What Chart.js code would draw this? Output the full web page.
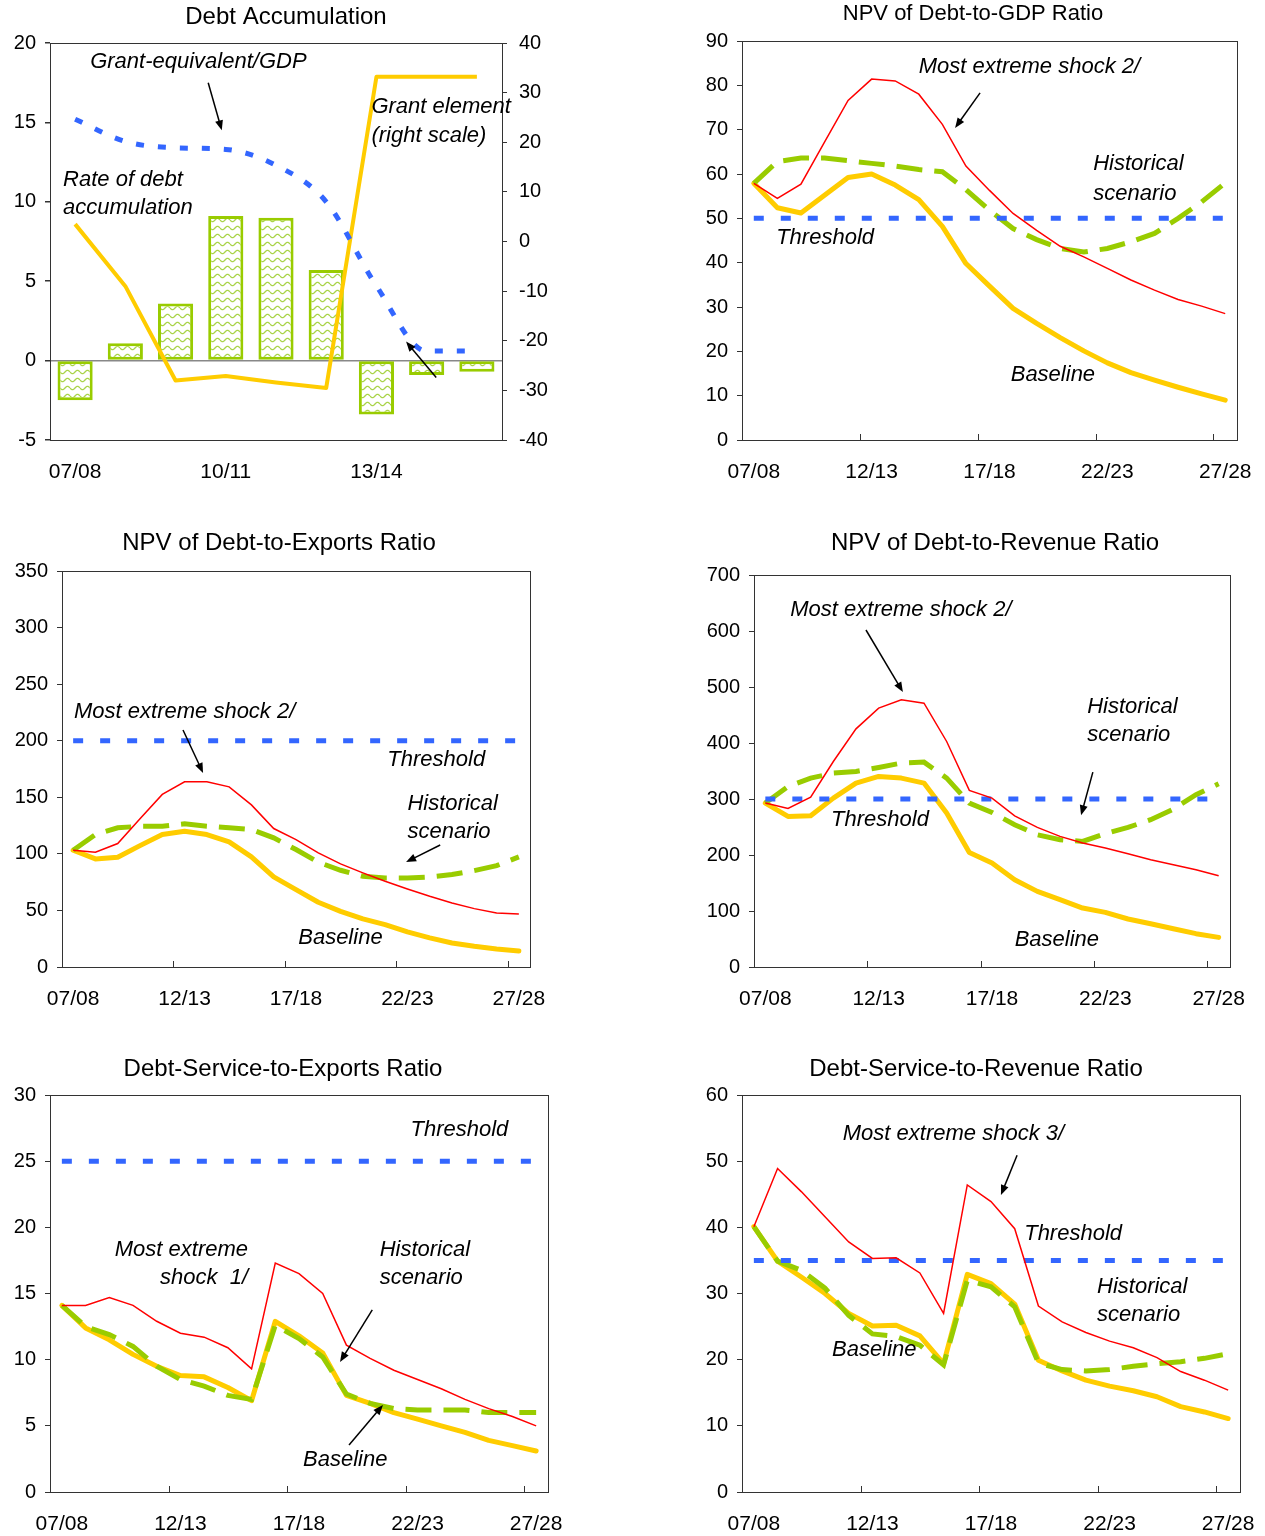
<!DOCTYPE html>
<html>
<head>
<meta charset="utf-8">
<script src="https://cdn.jsdelivr.net/npm/chart.js@4.4.1/dist/chart.umd.min.js"></script>
<style>
  body { margin: 0; background: #fff; overflow: hidden; }
  #page { position: relative; width: 1265px; height: 1536px; overflow: hidden; }
  canvas { position: absolute; }
</style>
</head>
<body>
<div id="page">
  <canvas id="accumChart" width="572" height="495" style="left:0;top:0"></canvas>
  <canvas id="gdpChart" width="566" height="495" style="left:690px;top:0"></canvas>
  <canvas id="exportsChart" width="558" height="495" style="left:0;top:525px"></canvas>
  <canvas id="revenueChart" width="610" height="495" style="left:690px;top:525px"></canvas>
  <canvas id="dsExportsChart" width="566" height="486" style="left:0;top:1050px"></canvas>
  <canvas id="dsRevenueChart" width="572" height="486" style="left:690px;top:1050px"></canvas>
</div>
<script>
// --- data ---
const years = ['07/08', '08/09', '09/10', '10/11', '11/12', '12/13', '13/14', '14/15', '15/16', '16/17', '17/18',
    '18/19', '19/20', '20/21', '21/22', '22/23', '23/24', '24/25', '25/26', '26/27', '27/28'];
const accumYears = ['07/08', '08/09', '09/10', '10/11', '11/12', '12/13', '13/14', '14/15', '15/16'];

const debtAccumulation = [-2.5, 1.1, 3.6, 9.1, 9.0, 5.7, -3.4, -0.9, -0.7];
const grantEquivalentGdp = [15.2, 13.8, 13.4, 13.3, 12.3, 10.0, 4.7, 0.6, 0.6];
const grantElement = [3.5, -9.0, -28.0, -27.1, -28.4, -29.5, 33.2, 33.2, 33.2];

const gdpBaseline = [57.9, 52.4, 51.2, 55.2, 59.2, 60.0, 57.5, 54.2, 48.2, 39.8, 34.7, 29.7, 26.3, 23.1, 20.1, 17.4, 15.2, 13.5, 11.9, 10.4, 9.0];
const gdpHistorical = [57.9, 62.8, 63.6, 63.6, 63.0, 62.4, 61.8, 61.0, 60.5, 56.5, 51.8, 47.7, 45.2, 43.2, 42.4, 43.2, 44.7, 46.6, 50.0, 53.7, 58.0];
const gdpShock = [57.9, 54.5, 57.7, 67.2, 76.6, 81.4, 81.0, 78.0, 71.2, 61.8, 56.3, 51.1, 47.3, 43.7, 41.3, 38.7, 36.1, 33.8, 31.7, 30.2, 28.5];
const gdpThreshold = 50;

const expBaseline = [103.2, 95.5, 97.0, 107.3, 117.1, 120.0, 117.1, 110.6, 97.3, 79.6, 68.4, 57.2, 49.2, 42.5, 37.5, 31.0, 25.7, 21.2, 18.3, 15.9, 14.2];
const expHistorical = [103.2, 117.0, 123.0, 124.4, 124.4, 126.5, 124.4, 123.0, 121.5, 114.1, 103.8, 92.6, 85.5, 80.2, 78.7, 78.7, 79.6, 81.7, 85.2, 89.6, 97.3];
const expShock = [103.2, 101.4, 109.1, 131.0, 152.5, 163.7, 163.7, 159.2, 143.3, 122.4, 112.6, 100.9, 91.1, 83.2, 75.8, 69.0, 62.5, 56.6, 51.6, 47.8, 46.9];
const expThreshold = 200;

const revBaseline = [292.7, 268.9, 270.0, 301.6, 328.4, 340.3, 337.3, 328.4, 274.8, 204.6, 185.6, 155.9, 135.0, 120.2, 105.3, 97.6, 85.7, 77.3, 68.4, 59.5, 52.9];
const revHistorical = [292.7, 322.4, 337.3, 346.2, 349.2, 356.3, 364.1, 365.9, 337.3, 292.7, 276.0, 254.0, 236.2, 227.2, 224.3, 238.0, 249.3, 263.0, 282.0, 307.6, 327.2];
const revShock = [292.7, 283.2, 303.4, 367.0, 425.3, 462.2, 477.0, 471.1, 402.7, 315.3, 301.6, 270.0, 249.3, 233.2, 221.3, 212.4, 202.3, 191.5, 182.6, 173.7, 163.0];
const revThreshold = 300;

const dseBaseline = [14.1, 12.4, 11.5, 10.4, 9.5, 8.8, 8.7, 7.9, 6.9, 12.9, 11.8, 10.5, 7.3, 6.7, 6.0, 5.5, 5.0, 4.5, 3.9, 3.5, 3.1];
const dseHistorical = [14.1, 12.5, 11.9, 11.0, 9.5, 8.5, 8.0, 7.3, 7.0, 12.6, 11.6, 10.2, 7.4, 6.7, 6.3, 6.2, 6.2, 6.2, 6.0, 6.0, 6.0];
const dseShock = [14.1, 14.1, 14.7, 14.1, 12.9, 12.0, 11.7, 10.9, 9.3, 17.3, 16.5, 15.0, 11.1, 10.1, 9.2, 8.5, 7.8, 7.0, 6.3, 5.7, 5.0];
const dseThreshold = 25;

const dsrBaseline = [40.1, 34.9, 32.5, 30.0, 27.0, 25.1, 25.2, 23.6, 19.4, 32.9, 31.5, 28.4, 19.9, 18.3, 16.9, 16.0, 15.3, 14.4, 12.9, 12.1, 11.1];
const dsrHistorical = [40.1, 34.9, 33.5, 30.8, 26.7, 23.9, 23.5, 22.2, 19.2, 32.0, 31.0, 28.0, 19.5, 18.5, 18.3, 18.5, 19.0, 19.4, 19.7, 20.2, 20.9];
const dsrShock = [40.1, 48.9, 45.4, 41.6, 37.8, 35.3, 35.4, 33.1, 27.0, 46.4, 43.9, 39.8, 28.1, 25.7, 24.1, 22.8, 21.8, 20.3, 18.2, 16.9, 15.4];
const dsrThreshold = 35;

const YELLOW = '#FFCC00';
const GREEN = '#99CC00';
const RED = '#FF0000';
const BLUE = '#3366FF';
const FONT = '"Liberation Sans", Arial, sans-serif';

Chart.defaults.font.family = FONT;
Chart.defaults.font.size = 20;
Chart.defaults.color = '#000';

function drawArrow(ctx, x1, y1, x2, y2) {
    const ang = Math.atan2(y2 - y1, x2 - x1);
    ctx.strokeStyle = '#000';
    ctx.fillStyle = '#000';
    ctx.lineWidth = 1.5;
    ctx.beginPath();
    ctx.moveTo(x1, y1);
    ctx.lineTo(x2 - 6 * Math.cos(ang), y2 - 6 * Math.sin(ang));
    ctx.stroke();
    ctx.beginPath();
    ctx.moveTo(x2, y2);
    ctx.lineTo(x2 - 10 * Math.cos(ang) + 4 * Math.sin(ang), y2 - 10 * Math.sin(ang) - 4 * Math.cos(ang));
    ctx.lineTo(x2 - 10 * Math.cos(ang) - 4 * Math.sin(ang), y2 - 10 * Math.sin(ang) + 4 * Math.cos(ang));
    ctx.closePath();
    ctx.fill();
}

// frame around the plot, small inward ticks, italic notes and arrows (in data units)
function decorations(notes, arrows, tickEvery) {
    return {
        id: 'decorations',
        afterDraw(chart) {
            const { ctx, chartArea: a } = chart;
            const xs = chart.scales.x;
            const ys = chart.scales.y;
            ctx.save();
            ctx.strokeStyle = '#333';
            ctx.lineWidth = 1;
            ctx.strokeRect(Math.round(a.left) + 0.5, Math.round(a.top) + 0.5,
                Math.round(a.right - a.left), Math.round(a.bottom - a.top));
            if (tickEvery) {
                for (let i = tickEvery; i < xs.getLabels().length; i += tickEvery) {
                    const px = Math.round(xs.getPixelForValue(i - 0.5)) + 0.5;
                    ctx.beginPath();
                    ctx.moveTo(px, a.bottom);
                    ctx.lineTo(px, a.bottom - 6);
                    ctx.stroke();
                }
            }
            ctx.font = 'italic 22px ' + FONT;
            ctx.fillStyle = '#000';
            ctx.textBaseline = 'middle';
            for (const n of notes) {
                ctx.textAlign = n.align || 'left';
                ctx.fillText(n.text, xs.getPixelForValue(n.x), ys.getPixelForValue(n.y));
            }
            for (const ar of arrows) {
                drawArrow(ctx, xs.getPixelForValue(ar[0]), ys.getPixelForValue(ar[1]),
                    xs.getPixelForValue(ar[2]), ys.getPixelForValue(ar[3]));
            }
            ctx.restore();
        }
    };
}

function wavePattern() {
    const c = document.createElement('canvas');
    c.width = 10;
    c.height = 8;
    const g = c.getContext('2d');
    g.fillStyle = '#fff';
    g.fillRect(0, 0, 10, 8);
    g.strokeStyle = '#aad44a';
    g.lineWidth = 1.3;
    g.beginPath();
    for (let x = 0; x <= 10; x++) {
        const y = 4 + 1.8 * Math.sin(x / 10 * 2 * Math.PI);
        if (x === 0) g.moveTo(x, y); else g.lineTo(x, y);
    }
    g.stroke();
    return g.createPattern(c, 'repeat');
}

function titleOpts(text, size, top, bottom) {
    return {
        display: true,
        text: text,
        color: '#000',
        font: { size: size, weight: 'normal' },
        padding: { top: top, bottom: bottom }
    };
}

// x labels may hang past the plot edge without shrinking it
function fixedHeight(h) {
    return (s) => {
        s.height = h;
        s.paddingLeft = 0;
        s.paddingRight = 0;
    };
}

// --- Debt Accumulation (bars + two lines, two scales) ---
new Chart(document.getElementById('accumChart'), {
    type: 'bar',
    data: {
        labels: accumYears,
        datasets: [
            {
                type: 'line',
                label: 'Grant-equivalent/GDP',
                data: grantEquivalentGdp,
                yAxisID: 'y',
                borderColor: BLUE,
                borderWidth: 5,
                borderDash: [8, 14],
                cubicInterpolationMode: 'monotone',
                pointRadius: 0
            },
            {
                type: 'line',
                label: 'Grant element (right scale)',
                data: grantElement,
                yAxisID: 'y2',
                borderColor: YELLOW,
                borderWidth: 4,
                borderJoinStyle: 'round',
                pointRadius: 0
            },
            {
                label: 'Rate of debt accumulation',
                data: debtAccumulation,
                yAxisID: 'y',
                backgroundColor: wavePattern(),
                borderColor: GREEN,
                borderWidth: 3,
                borderSkipped: false,
                barPercentage: 0.7,
                categoryPercentage: 1
            }
        ]
    },
    options: {
        responsive: false,
        animation: false,
        events: [],
        layout: { padding: 0 },
        plugins: {
            legend: { display: false },
            tooltip: { enabled: false },
            title: titleOpts('Debt Accumulation', 24, 2.6, 11.6)
        },
        scales: {
            x: {
                grid: { display: false },
                border: { display: false },
                ticks: {
                    autoSkip: false,
                    maxRotation: 0,
                    padding: 12,
                    font: { size: 21 },
                    callback: (v, i) => (i % 3 === 0 ? accumYears[i] : '')
                },
                afterFit: fixedHeight(55)
            },
            y: {
                min: -5,
                max: 20,
                ticks: { stepSize: 5, padding: 9 },
                border: { display: false },
                grid: {
                    color: (c) => (c.tick && c.tick.value === 0 ? '#888' : 'rgba(0,0,0,0)'),
                    tickColor: '#333',
                    tickLength: 5,
                    lineWidth: 1.5
                },
                afterFit: (s) => { s.width = 50; }
            },
            y2: {
                position: 'right',
                min: -40,
                max: 40,
                ticks: { stepSize: 10, padding: 12 },
                border: { display: false },
                grid: { drawOnChartArea: false, tickColor: '#333', tickLength: 5 },
                afterFit: (s) => { s.width = 70; }
            }
        }
    },
    plugins: [decorations(
        [
            { text: 'Grant-equivalent/GDP', x: 0.3, y: 18.8 },
            { text: 'Grant element', x: 5.9, y: 16.0 },
            { text: '(right scale)', x: 5.9, y: 14.15 },
            { text: 'Rate of debt', x: -0.24, y: 11.4 },
            { text: 'accumulation', x: -0.24, y: 9.6 }
        ],
        [
            [2.65, 17.5, 2.92, 14.5],
            [7.19, -1.07, 6.59, 1.2]
        ],
        0
    )]
});

// --- five ratio panels ---
function ratioChart(canvasId, title, titleSize, titlePad, area, yMax, yStep, threshold,
    baseline, historical, shock, notes, arrows) {
    const canvas = document.getElementById(canvasId);
    return new Chart(canvas, {
        type: 'line',
        data: {
            labels: years,
            datasets: [
                {
                    label: 'Most extreme shock',
                    data: shock,
                    borderColor: RED,
                    borderWidth: 1.5,
                    pointRadius: 0
                },
                {
                    label: 'Threshold',
                    data: years.map(() => threshold),
                    borderColor: BLUE,
                    borderWidth: 5,
                    borderDash: [10, 17],
                    pointRadius: 0
                },
                {
                    label: 'Historical scenario',
                    data: historical,
                    borderColor: GREEN,
                    borderWidth: 5,
                    borderDash: [26, 12],
                    pointRadius: 0
                },
                {
                    label: 'Baseline',
                    data: baseline,
                    borderColor: YELLOW,
                    borderWidth: 5,
                    borderJoinStyle: 'round',
                    borderCapStyle: 'round',
                    pointRadius: 0
                }
            ]
        },
        options: {
            responsive: false,
            animation: false,
            events: [],
            layout: { padding: 0 },
            plugins: {
                legend: { display: false },
                tooltip: { enabled: false },
                title: titleOpts(title, titleSize, titlePad[0], titlePad[1])
            },
            scales: {
                x: {
                    offset: true,
                    grid: { display: false },
                    border: { display: false },
                    ticks: {
                        autoSkip: false,
                        maxRotation: 0,
                        padding: 12,
                        font: { size: 21 },
                        callback: (v, i) => (i % 5 === 0 ? years[i] : '')
                    },
                    afterFit: fixedHeight(canvas.height - area.bottom)
                },
                y: {
                    min: 0,
                    max: yMax,
                    ticks: { stepSize: yStep, padding: 9 },
                    border: { display: false },
                    grid: { drawOnChartArea: false, tickColor: '#333', tickLength: 5 },
                    afterFit: (s) => { s.width = area.left; }
                },
                // empty right-hand margin so the title stays centred on the whole panel
                margin: {
                    type: 'linear',
                    position: 'right',
                    grid: { display: false },
                    border: { display: false },
                    ticks: { display: false },
                    afterFit: (s) => { s.width = canvas.width - area.right; }
                }
            }
        },
        plugins: [decorations(notes, arrows, 5)]
    });
}

ratioChart('gdpChart', 'NPV of Debt-to-GDP Ratio', 22, [0.8, 13.8], { left: 52, right: 547, bottom: 440 },
    90, 10, gdpThreshold, gdpBaseline, gdpHistorical, gdpShock,
    [
        { text: 'Most extreme shock 2/', x: 7.0, y: 84.1 },
        { text: 'Historical', x: 14.4, y: 62.3 },
        { text: 'scenario', x: 14.4, y: 55.5 },
        { text: 'Threshold', x: 0.95, y: 45.6 },
        { text: 'Baseline', x: 10.9, y: 14.7 }
    ],
    [[9.6, 78.3, 8.54, 70.4]]
);

ratioChart('exportsChart', 'NPV of Debt-to-Exports Ratio', 24, [3.6, 13.6], { left: 62, right: 530, bottom: 442 },
    350, 50, expThreshold, expBaseline, expHistorical, expShock,
    [
        { text: 'Most extreme shock 2/', x: 0.04, y: 225.4 },
        { text: 'Threshold', x: 14.1, y: 183 },
        { text: 'Historical', x: 15.0, y: 144 },
        { text: 'scenario', x: 15.0, y: 119 },
        { text: 'Baseline', x: 10.1, y: 25.6 }
    ],
    [[4.93, 209.5, 5.83, 171.5], [16.47, 107.8, 14.94, 92.8]]
);

ratioChart('revenueChart', 'NPV of Debt-to-Revenue Ratio', 24, [3.6, 17.6], { left: 64, right: 540, bottom: 442 },
    700, 100, revThreshold, revBaseline, revHistorical, revShock,
    [
        { text: 'Most extreme shock 2/', x: 1.1, y: 637.5 },
        { text: 'Historical', x: 14.2, y: 464 },
        { text: 'scenario', x: 14.2, y: 414 },
        { text: 'Threshold', x: 2.9, y: 262.5 },
        { text: 'Baseline', x: 11.0, y: 48.2 }
    ],
    [[4.44, 601.8, 6.07, 491], [14.45, 348, 13.93, 271]]
);

ratioChart('dsExportsChart', 'Debt-Service-to-Exports Ratio', 24, [4.6, 11.6], { left: 50, right: 548, bottom: 442 },
    30, 5, dseThreshold, dseBaseline, dseHistorical, dseShock,
    [
        { text: 'Threshold', x: 14.7, y: 27.4 },
        { text: 'Most extreme', x: 7.85, y: 18.3, align: 'right' },
        { text: 'shock  1/', x: 7.85, y: 16.2, align: 'right' },
        { text: 'Historical', x: 13.4, y: 18.3 },
        { text: 'scenario', x: 13.4, y: 16.2 },
        { text: 'Baseline', x: 10.17, y: 2.42 }
    ],
    [[13.09, 13.76, 11.73, 9.83], [12.11, 3.55, 13.54, 6.58]]
);

ratioChart('dsRevenueChart', 'Debt-Service-to-Revenue Ratio', 24, [4.6, 11.6], { left: 52, right: 550, bottom: 442 },
    60, 10, dsrThreshold, dsrBaseline, dsrHistorical, dsrShock,
    [
        { text: 'Most extreme shock 3/', x: 3.75, y: 54.1 },
        { text: 'Threshold', x: 11.4, y: 39.0 },
        { text: 'Historical', x: 14.47, y: 31.0 },
        { text: 'scenario', x: 14.47, y: 26.7 },
        { text: 'Baseline', x: 3.3, y: 21.5 }
    ],
    [[11.1, 50.9, 10.42, 44.9]]
);
</script>
</body>
</html>
